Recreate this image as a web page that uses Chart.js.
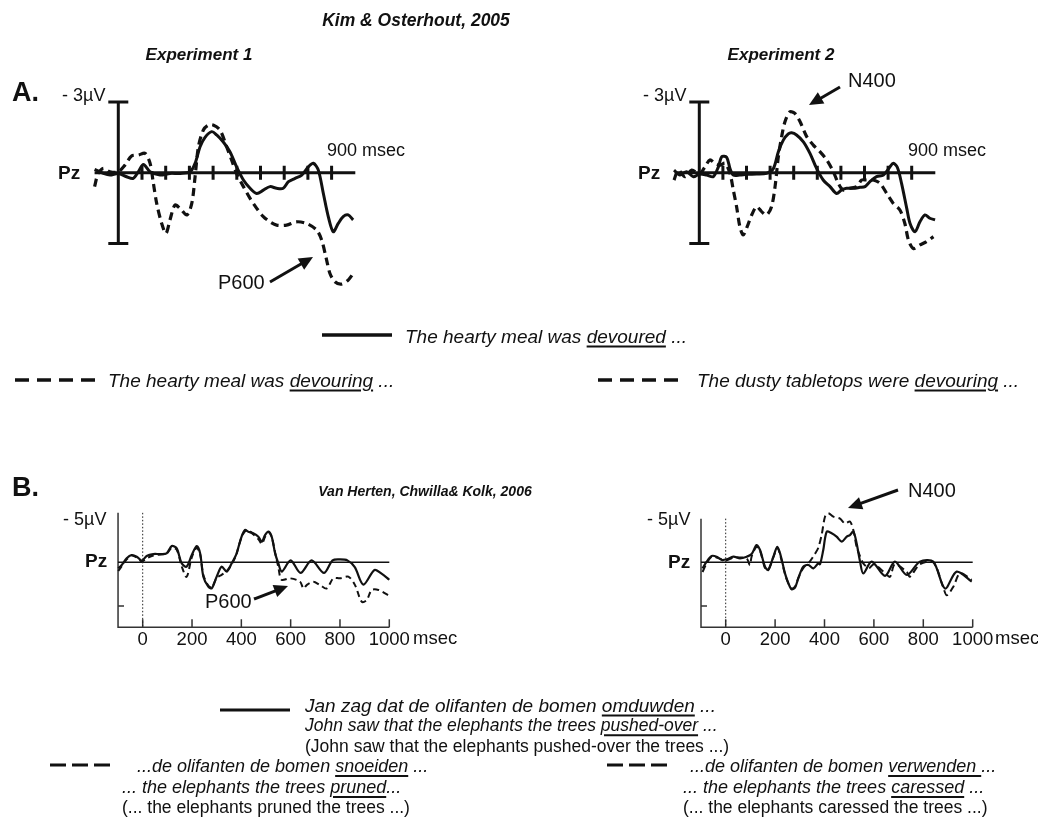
<!DOCTYPE html>
<html><head><meta charset="utf-8">
<script src="https://cdn.jsdelivr.net/npm/chart.js@4.4.1/dist/chart.umd.min.js"></script>
<style>
html,body{margin:0;padding:0;background:#fff;}
#stage{position:relative;width:1038px;height:820px;overflow:hidden;font-family:"Liberation Sans",Arial,sans-serif;color:#111;}
canvas{position:absolute;}
.t{position:absolute;white-space:nowrap;line-height:1;transform:translateY(-50%);}
.c{transform:translate(-50%,-50%);}
.bi{font-weight:bold;font-style:italic;}
.i{font-style:italic;}
.b{font-weight:bold;}
u{text-decoration-thickness:1.5px;text-underline-offset:3px;}
svg{position:absolute;left:0;top:0;}
</style></head><body><div id="stage">
<canvas id="a1"></canvas><canvas id="a2"></canvas><canvas id="b1"></canvas><canvas id="b2"></canvas>
<svg id="ov" width="1038" height="820"></svg>

<div class="t c bi" style="left:416px;top:21px;font-size:17.5px">Kim &amp; Osterhout, 2005</div>
<div class="t c bi" style="left:199px;top:54px;font-size:17px">Experiment 1</div>
<div class="t c bi" style="left:781px;top:54px;font-size:17px">Experiment 2</div>
<div class="t b" style="left:12px;top:92px;font-size:27px">A.</div>
<div class="t" style="left:62px;top:95px;font-size:18px">- 3µV</div>
<div class="t" style="left:643px;top:95px;font-size:18px">- 3µV</div>
<div class="t b" style="left:58px;top:172px;font-size:19px">Pz</div>
<div class="t b" style="left:638px;top:172px;font-size:19px">Pz</div>
<div class="t" style="left:327px;top:150px;font-size:18px">900 msec</div>
<div class="t" style="left:908px;top:150px;font-size:18px">900 msec</div>
<div class="t" style="left:218px;top:282px;font-size:20px">P600</div>
<div class="t" style="left:848px;top:80px;font-size:20px">N400</div>

<div class="t i" style="left:405px;top:336px;font-size:19px">The hearty meal was <u>devoured</u> ...</div>
<div class="t i" style="left:108px;top:380px;font-size:19px">The hearty meal was <u>devouring</u> ...</div>
<div class="t i" style="left:697px;top:380px;font-size:19px">The dusty tabletops were <u>devouring</u> ...</div>

<div class="t b" style="left:12px;top:487px;font-size:27px">B.</div>
<div class="t c bi" style="left:425px;top:491px;font-size:14px">Van Herten, Chwilla&amp; Kolk, 2006</div>
<div class="t" style="left:63px;top:519px;font-size:18px">- 5µV</div>
<div class="t" style="left:647px;top:519px;font-size:18px">- 5µV</div>
<div class="t b" style="left:85px;top:560px;font-size:19px">Pz</div>
<div class="t b" style="left:668px;top:561px;font-size:19px">Pz</div>
<div class="t" style="left:413px;top:638px;font-size:18.5px">msec</div>
<div class="t" style="left:995px;top:638px;font-size:18.5px">msec</div>
<div class="t" style="left:205px;top:601px;font-size:20px">P600</div>
<div class="t" style="left:908px;top:490px;font-size:20px">N400</div>

<div class="t i" style="left:305px;top:705px;font-size:19px">Jan zag dat de olifanten de bomen <u>omduwden</u> ...</div>
<div class="t i" style="left:305px;top:726px;font-size:17.5px">John saw that the elephants the trees <u>pushed-over</u> ...</div>
<div class="t" style="left:305px;top:747px;font-size:17.5px">(John saw that the elephants pushed-over the trees ...)</div>
<div class="t i" style="left:137px;top:766px;font-size:18px">...de olifanten de bomen <u>snoeiden</u> ...</div>
<div class="t i" style="left:122px;top:787px;font-size:18px">... the elephants the trees <u>pruned</u>...</div>
<div class="t" style="left:122px;top:808px;font-size:17.5px">(... the elephants pruned the trees ...)</div>
<div class="t i" style="left:690px;top:766px;font-size:18px">...de olifanten de bomen <u>verwenden </u>...</div>
<div class="t i" style="left:683px;top:787px;font-size:18px">... the elephants the trees <u>caressed</u> ...</div>
<div class="t" style="left:683px;top:808px;font-size:17.5px">(... the elephants caressed the trees ...)</div>
</div>
<script>
// ---------- DATA (ms, µV; negative plotted up) ----------
const a1SolidTime = [-100,-63,-35,0,35,63,85,106,134,176,218,261,303,324,345,366,394,415,443,471,499,528,556,584,612,640,668,696,718,746,774,802,823,844,865,886,907,928,949,970,991];
const a1Solid     = [-0.14,0.03,0.1,0.03,0.17,0.24,-0.05,-0.35,-0.04,0.1,0.03,0.03,-0.04,-0.4,-1.1,-1.5,-1.74,-1.6,-1.3,-0.89,-0.25,0.31,0.66,0.88,0.74,0.59,0.66,0.66,0.38,0.24,0.1,-0.25,-0.4,-0.11,0.87,1.86,2.5,2.15,1.86,1.79,2.0];
const a1DashTime  = [-100,-85,-63,-35,0,28,56,85,113,134,148,162,183,201,218,239,260,289,310,324,338,359,380,400,429,457,478,499,528,556,584,612,640,668,710,752,794,837,858,879,893,914,942,970,991];
const a1Dash      = [0.59,0.03,-0.18,-0.04,-0.04,-0.32,-0.71,-0.75,-0.82,-0.4,0.45,1.3,2.15,2.57,2.0,1.37,1.51,1.79,1.3,0.17,-1.1,-1.81,-2.02,-2.02,-1.81,-1.1,-0.54,0.03,0.59,1.09,1.51,1.86,2.08,2.22,2.22,2.08,2.15,2.43,2.85,3.7,4.27,4.62,4.72,4.55,4.27];

const a2SolidTime = [-107,-82,-54,-25,0,31,59,81,95,116,130,144,172,201,243,285,314,335,356,377,391,412,441,469,497,525,554,582,603,624,653,681,702,723,751,780,808,822,839,857,879,893,914,935,956,977,999];
const a2Solid     = [-0.11,0.1,-0.04,0.17,0.06,0.1,0.17,-0.25,-0.68,-0.65,-0.18,0.1,0.1,0.07,0.06,0.03,-0.18,-0.89,-1.38,-1.64,-1.69,-1.6,-1.31,-0.82,-0.18,0.31,0.59,0.88,0.73,0.66,0.66,0.62,0.59,0.38,0.17,0.1,-0.25,-0.4,-0.23,0.45,1.51,2.15,2.5,2.08,1.79,1.93,2.0];
const a2DashTime  = [-107,-89,-61,-32,0,24,45,66,88,109,130,144,158,172,186,203,222,243,264,285,306,321,335,349,363,384,405,427,455,483,511,540,568,589,610,638,667,688,709,737,766,794,822,850,871,886,907,935,963,992];
const a2Dash      = [0.31,-0.11,0.17,-0.11,0.06,-0.25,-0.54,-0.4,-0.32,-0.4,0.03,0.73,1.44,2.29,2.64,2.29,1.79,1.44,1.65,1.79,1.44,0.59,-0.68,-1.53,-2.16,-2.58,-2.51,-2.16,-1.53,-1.17,-0.89,-0.54,-0.04,0.45,0.73,0.66,0.59,0.31,0.31,0.31,0.45,0.88,1.3,1.58,2.15,2.85,3.21,3.06,2.92,2.71];

const b1SolidTime = [-99,-85,-65,-45,-24,-4,16,43,70,97,118,138,158,178,199,219,233,246,266,280,300,320,341,361,375,381,401,415,428,448,469,483,496,510,523,537,550,564,600,640,685,735,770,800,830,860,895,940,970,1000];
const b1Solid     = [0.62,0.28,-0.41,-0.75,-0.58,-0.17,-0.65,-0.85,-0.85,-0.92,-1.68,-1.44,0.1,0.45,-0.75,-1.68,-0.92,1.48,2.5,2.68,1.48,0.45,0.96,0.1,-0.58,-0.92,-2.64,-3.33,-3.16,-2.99,-2.64,-2.13,-2.81,-3.16,-2.64,-0.92,0.1,0.96,-0.2,1.1,-0.2,1.1,-0.2,-0.3,-0.2,0.5,2.3,0.8,1.2,1.8];
const b1DashTime  = [-99,-85,-65,-45,-24,-4,16,43,70,97,118,138,158,178,199,219,233,246,266,280,300,320,341,361,375,381,401,415,428,448,469,483,496,510,523,537,550,563,597,638,652,665,692,719,746,773,800,834,861,888,908,929,956,1003];
const b1Dash      = [0.9,0.4,-0.3,-0.7,-0.5,-0.1,-0.4,-0.7,-0.8,-0.9,-1.5,-1.3,0.4,1.5,-0.5,-1.5,-0.8,1.3,2.4,2.6,1.6,1.3,0.9,0.2,-0.5,-0.9,-2.6,-3.2,-3.3,-2.9,-2.4,-1.9,-2.6,-3.1,-2.6,-1.0,0.5,1.8,1.65,2.0,2.7,2.35,2.0,2.35,2.7,1.65,1.65,1.48,2.35,4.06,3.9,2.85,2.85,3.5];

const b2SolidTime = [-94,-77,-57,-37,-16,4,31,58,85,105,125,139,159,172,193,209,222,240,254,267,281,294,314,335,355,375,382,395,409,429,449,470,490,503,517,530,544,557,591,645,685,733,786,840,888,935,996];
const b2Solid     = [0.62,-0.07,-0.65,-0.58,-0.24,-0.31,-0.58,-0.41,-0.58,-0.85,-1.78,-1.27,0.45,0.79,-0.58,-1.6,-0.75,1.14,2.17,2.79,2.58,1.65,0.45,0.28,0.62,0.1,0.2,-1.27,-3.16,-2.99,-2.64,-2.13,-2.64,-2.81,-3.16,-1.96,-0.07,1.15,-0.07,1.4,-0.07,1.3,-0.07,-0.07,2.7,0.96,2.0];
const b2DashTime  = [-94,-77,-57,-37,-16,4,31,58,85,98,105,125,139,159,172,193,209,222,240,254,267,281,294,314,341,362,375,389,402,415,436,463,483,503,517,530,544,557,580,600,645,665,685,733,746,786,840,881,895,922,949,996];
const b2Dash      = [1.0,0.1,-0.6,-0.5,-0.3,-0.2,-0.5,-0.5,-0.4,0.3,-0.6,-1.6,-1.2,0.6,0.8,-0.5,-1.5,-0.6,1.2,2.2,2.7,2.5,1.6,0.6,-0.1,-0.9,-1.5,-2.9,-4.7,-5.05,-4.7,-4.5,-4.0,-4.2,-3.3,-1.6,-0.6,0.1,0.6,0.2,1.1,1.5,0.2,1.0,1.48,0.2,0.0,2.6,3.4,2.5,1.14,1.8];

// axis ticks / labels
const aTicks = [100,200,300,400,500,600,700,800,900];
const aBarRange = [-3, 3];
const aBaseSpan = [-100, 1000];
const bTicks = [0,200,400,600,800,1000];
const bTickLabels = ['0','200','400','600','800','1000'];
const bBaseSpan = [-100, 1000];

// ---------- helpers ----------
const zip = (t, v) => t.map((x, i) => ({x, y: v[i]}));

function axisStyleA() {
  return {id:'axisA', beforeDatasetsDraw(chart){
    const {ctx} = chart, x = chart.scales.x, y = chart.scales.y;
    ctx.save(); ctx.strokeStyle = '#111'; ctx.lineWidth = 3; ctx.lineCap = 'butt';
    const x0 = x.getPixelForValue(0), yT = y.getPixelForValue(aBarRange[0]), yB = y.getPixelForValue(aBarRange[1]), yZ = y.getPixelForValue(0);
    ctx.beginPath();
    ctx.moveTo(x0, yT); ctx.lineTo(x0, yB);
    ctx.moveTo(x0-10, yT); ctx.lineTo(x0+10, yT);
    ctx.moveTo(x0-10, yB); ctx.lineTo(x0+10, yB);
    ctx.moveTo(x.getPixelForValue(aBaseSpan[0]), yZ); ctx.lineTo(x.getPixelForValue(aBaseSpan[1]), yZ);
    aTicks.forEach(t => { const p = x.getPixelForValue(t); ctx.moveTo(p, yZ-7); ctx.lineTo(p, yZ+7); });
    ctx.stroke(); ctx.restore();
  }};
}
function axisStyleB(top, bottom, sideTick) {
  return {id:'axisB', beforeDatasetsDraw(chart){
    const {ctx} = chart, x = chart.scales.x, y = chart.scales.y;
    const xl = x.getPixelForValue(bBaseSpan[0]), xr = x.getPixelForValue(bBaseSpan[1]);
    const yT = y.getPixelForValue(top), yB = y.getPixelForValue(bottom), yZ = y.getPixelForValue(0);
    ctx.save(); ctx.strokeStyle = '#333'; ctx.lineWidth = 1.5;
    ctx.beginPath();
    ctx.moveTo(xl, yT); ctx.lineTo(xl, yB); ctx.lineTo(xr, yB);
    bTicks.forEach(t => { const p = x.getPixelForValue(t); ctx.moveTo(p, yB); ctx.lineTo(p, yB-8); });
    const ys = y.getPixelForValue(sideTick); ctx.moveTo(xl, ys); ctx.lineTo(xl+6, ys);
    ctx.stroke();
    ctx.strokeStyle = '#111'; ctx.beginPath(); ctx.moveTo(xl, yZ); ctx.lineTo(xr, yZ); ctx.stroke();
    ctx.setLineDash([1.5, 2]); ctx.lineWidth = 1; ctx.strokeStyle = '#222';
    const x0 = x.getPixelForValue(0); ctx.beginPath(); ctx.moveTo(x0, yT); ctx.lineTo(x0, yB); ctx.stroke();
    ctx.setLineDash([]);
    ctx.fillStyle = '#111'; ctx.font = '18.5px "Liberation Sans", Arial, sans-serif'; ctx.textAlign = 'center'; ctx.textBaseline = 'alphabetic';
    bTicks.forEach((t, i) => ctx.fillText(bTickLabels[i], x.getPixelForValue(t), yB + 17.5));
    ctx.restore();
  }};
}

function makePanel(id, rect, map, datasets, plugin) {
  const cv = document.getElementById(id);
  cv.width = rect[2]; cv.height = rect[3];
  cv.style.left = rect[0] + 'px'; cv.style.top = rect[1] + 'px';
  cv.style.width = rect[2] + 'px'; cv.style.height = rect[3] + 'px';
  const xmin = (rect[0] - map.x0) / map.px, xmax = (rect[0] + rect[2] - map.x0) / map.px;
  const ymin = (rect[1] - map.y0) / map.py, ymax = (rect[1] + rect[3] - map.y0) / map.py;
  new Chart(cv, {
    type: 'line',
    data: {datasets},
    options: {
      responsive: false, animation: false, devicePixelRatio: 1,
      layout: {padding: 0},
      plugins: {legend: {display: false}, tooltip: {enabled: false}},
      scales: {
        x: {type: 'linear', display: false, min: xmin, max: xmax},
        y: {type: 'linear', display: false, reverse: true, min: ymin, max: ymax}
      },
      elements: {point: {radius: 0}, line: {tension: 0.3}}
    },
    plugins: [plugin]
  });
}
const ds = (t, v, w, dash) => ({data: zip(t, v), borderColor: '#111', borderWidth: w, borderDash: dash, fill: false, borderCapStyle: 'butt'});

makePanel('a1', [60, 60, 330, 250], {x0: 118.3, px: 0.237, y0: 172.7, py: 23.6},
  [ds(a1DashTime, a1Dash, 3.2, [8, 5]), ds(a1SolidTime, a1Solid, 3, [])], axisStyleA());
makePanel('a2', [640, 60, 330, 250], {x0: 699.3, px: 0.236, y0: 172.7, py: 23.6},
  [ds(a2DashTime, a2Dash, 3.2, [8, 5]), ds(a2SolidTime, a2Solid, 3, [])], axisStyleA());
makePanel('b1', [100, 495, 330, 165], {x0: 142.7, px: 0.2466, y0: 562.3, py: 9.7},
  [ds(b1DashTime, b1Dash, 2, [6, 4]), ds(b1SolidTime, b1Solid, 2.2, [])], axisStyleB(-5.1, 6.7, 4.5));
makePanel('b2', [690, 495, 330, 165], {x0: 725.7, px: 0.247, y0: 562.3, py: 9.7},
  [ds(b2DashTime, b2Dash, 2, [7, 4]), ds(b2SolidTime, b2Solid, 2.2, [])], axisStyleB(-4.5, 6.7, 4.5));

// ---------- overlay: legend samples & arrows ----------
const svg = document.getElementById('ov');
const NS = 'http://www.w3.org/2000/svg';
function line(x1, y1, x2, y2, w, dash) {
  const l = document.createElementNS(NS, 'line');
  l.setAttribute('x1', x1); l.setAttribute('y1', y1); l.setAttribute('x2', x2); l.setAttribute('y2', y2);
  l.setAttribute('stroke', '#111'); l.setAttribute('stroke-width', w);
  if (dash) l.setAttribute('stroke-dasharray', dash);
  svg.appendChild(l);
}
function arrow(x1, y1, x2, y2) {
  const dx = x2 - x1, dy = y2 - y1, L = Math.hypot(dx, dy), ux = dx / L, uy = dy / L;
  const hl = 14, hw = 6.5;
  const bx = x2 - ux * hl, by = y2 - uy * hl;
  line(x1, y1, bx + ux * 2, by + uy * 2, 3);
  const p = document.createElementNS(NS, 'polygon');
  p.setAttribute('points', `${x2},${y2} ${bx - uy * hw},${by + ux * hw} ${bx + uy * hw},${by - ux * hw}`);
  p.setAttribute('fill', '#111');
  svg.appendChild(p);
}
line(322, 335, 392, 335, 3.5);
line(15, 380, 95, 380, 3.5, '14 8');
line(598, 380, 678, 380, 3.5, '14 8');
line(220, 710, 290, 710, 3);
line(50, 765, 110, 765, 3, '16 6');
line(607, 765, 670, 765, 3, '16 6');
arrow(270, 282, 313, 257);
arrow(840, 87, 809, 105);
arrow(254, 599, 288, 586);
arrow(898, 490, 848, 508);
</script>
</body></html>
